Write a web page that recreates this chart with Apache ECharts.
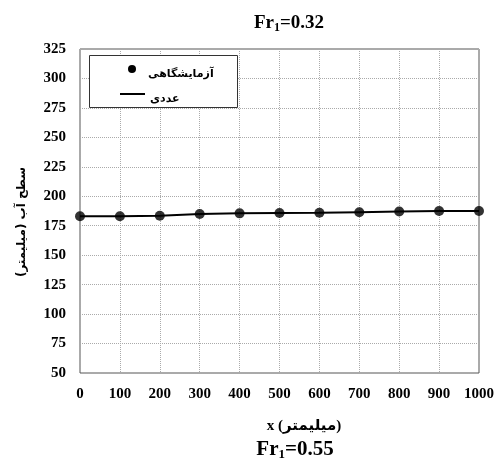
<!DOCTYPE html>
<html><head><meta charset="utf-8">
<script src="https://cdn.jsdelivr.net/npm/echarts@6/dist/echarts.min.js"></script>
<style>html,body{margin:0;padding:0;background:#fff}#c{width:497px;height:459px}</style>
</head><body><div id="c"></div>
<script>
var xValues = [0, 100, 200, 300, 400, 500, 600, 700, 800, 900, 1000];
var experimental = [183, 183, 183.5, 185, 185.5, 185.8, 186, 186.5, 187, 187.5, 187.5];
var numerical = [183, 183, 183.5, 185, 185.5, 185.8, 186, 186.5, 187, 187.5, 187.5];
var legendNames = ['آزمایشگاهی', 'عددی'];
var yAxisName = 'سطح آب (میلیمتر)';
var xAxisName = 'x (میلیمتر)';

var serif = '"Liberation Serif","Times New Roman","DejaVu Sans",serif';
var arab = '"DejaVu Sans",sans-serif';
function pairs(ys){ return xValues.map(function(x,i){return [x, ys[i]];}); }
function titleRich(fs, ss, pad){ return { rich: {
  a: { fontFamily: serif, fontWeight: 'bold', fontSize: fs, color: '#000' },
  s: { fontFamily: serif, fontWeight: 'bold', fontSize: ss, color: '#000', padding: [pad,0,0,0] }
}}; }

var chart = echarts.init(document.getElementById('c'));
chart.setOption({
  animation: false,
  backgroundColor: '#fff',
  title: [{
    text: '{a|Fr}{s|1}{a|=0.32}', left: 284, textAlign: 'center', top: 8, textStyle: titleRich(19, 12, 9)
  }, {
    text: '{a|Fr}{s|1}{a|=0.55}', left: 290, textAlign: 'center', top: 433, textStyle: titleRich(21, 13, 10)
  }],
  grid: { left: 80, right: 17, top: 49, bottom: 86, show: true, borderColor: '#555', borderWidth: 1 },
  graphic: [
    { type: 'rect', left: 89, top: 55, z: 10,
      shape: { width: 148, height: 52 },
      style: { fill: '#fff', stroke: '#333', lineWidth: 1 } },
    { type: 'circle', z: 11, shape: { cx: 132, cy: 69, r: 4 }, style: { fill: '#000' } },
    { type: 'line', z: 11, shape: { x1: 120, y1: 94, x2: 145, y2: 94 }, style: { stroke: '#000', lineWidth: 2 } },
    { type: 'text', z: 11, x: 148, y: 74,
      style: { text: legendNames[0], font: 'bold 11px ' + arab, fill: '#000', textAlign: 'left', textVerticalAlign: 'middle' } },
    { type: 'text', z: 11, x: 150, y: 99,
      style: { text: legendNames[1], font: 'bold 11px ' + arab, fill: '#000', textAlign: 'left', textVerticalAlign: 'middle' } },
    { type: 'text', z: 11, x: 22, y: 222, rotation: Math.PI / 2,
      style: { text: yAxisName, font: 'bold 12px ' + arab, fill: '#000', textAlign: 'center', textVerticalAlign: 'middle' } },
    { type: 'text', z: 11, x: 304, y: 426,
      style: { text: xAxisName, font: 'bold 15px ' + serif, fill: '#000', textAlign: 'center', textVerticalAlign: 'middle' } }
  ],
  xAxis: {
    type: 'value', min: 0, max: 1000, interval: 100,
    axisLine: { show: false }, axisTick: { show: false },
    axisLabel: { margin: 14, fontFamily: serif, fontWeight: 'bold', fontSize: 15, color: '#000',
      formatter: function(v){ return String(v); } },
    splitLine: { show: true, lineStyle: { type: 'dotted', color: '#aaa', width: 1 } }
  },
  yAxis: {
    type: 'value', min: 50, max: 325, interval: 25,
    axisLine: { show: false }, axisTick: { show: false },
    axisLabel: { margin: 14, fontFamily: serif, fontWeight: 'bold', fontSize: 15, color: '#000' },
    splitLine: { show: true, lineStyle: { type: 'dotted', color: '#aaa', width: 1 } }
  },
  series: [{
    name: legendNames[0], type: 'scatter', data: pairs(experimental),
    symbol: 'circle', symbolSize: 10, itemStyle: { color: '#000' }, z: 3
  }, {
    name: legendNames[1], type: 'line', data: pairs(numerical),
    symbol: 'none', lineStyle: { color: '#000', width: 2 }, itemStyle: { color: '#000' }, z: 2
  }]
});
</script></body></html>
